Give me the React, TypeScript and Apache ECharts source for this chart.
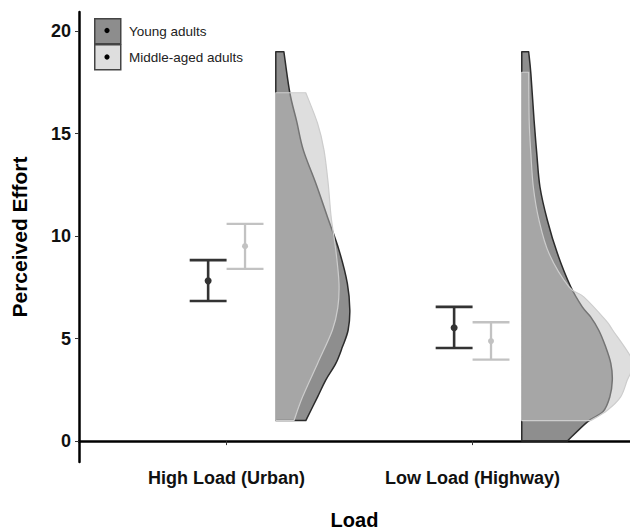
import React, { useEffect, useRef } from "react";
import * as echarts from "echarts";

const categories = ["High Load (Urban)", "Low Load (Highway)"];
const groups = ["Young adults", "Middle-aged adults"];
const yTicks = [0, 5, 10, 15, 20];
const xTicks = [1, 2];

// Means and error-bar limits, per category
const youngMean = [7.82, 5.53];
const youngLower = [6.84, 4.54];
const youngUpper = [8.83, 6.55];
const middleMean = [9.51, 4.88];
const middleLower = [8.4, 3.98];
const middleUpper = [10.6, 5.8];

// Half-violin outlines: effort level -> half width (in category units)
const youngHighEffort = [1, 2.16, 2.98, 3.79, 4.6, 5.41, 6.39, 7.69, 9.32, 10.94, 12.57, 14.2, 15.6, 17, 19];
const youngHighWidth = [0.122, 0.17, 0.203, 0.244, 0.271, 0.294, 0.301, 0.291, 0.257, 0.21, 0.163, 0.112, 0.085, 0.057, 0.033];
const middleHighEffort = [1, 2.16, 3.79, 5.41, 6.5, 7.69, 9.32, 10.94, 12.57, 14.2, 15.5, 17];
const middleHighWidth = [0.074, 0.109, 0.17, 0.23, 0.252, 0.257, 0.244, 0.225, 0.213, 0.196, 0.17, 0.122];
const youngLowEffort = [0, 0.94, 1.43, 2.16, 2.98, 3.79, 4.6, 5.41, 6.06, 6.55, 7.53, 9.15, 10.78, 12.4, 14.03, 15.66, 17.93, 19];
const youngLowWidth = [0.185, 0.267, 0.33, 0.358, 0.368, 0.362, 0.341, 0.313, 0.28, 0.246, 0.199, 0.145, 0.104, 0.074, 0.061, 0.05, 0.037, 0.028];
const middleLowEffort = [1, 1.51, 2.16, 2.98, 3.5, 4.11, 5.41, 5.9, 7.04, 7.53, 9.15, 10.78, 12.4, 14.03, 15.66, 18];
const middleLowWidth = [0.28, 0.348, 0.402, 0.429, 0.447, 0.443, 0.37, 0.341, 0.252, 0.192, 0.111, 0.07, 0.047, 0.037, 0.03, 0.028];

const violinOffset = 0.2;
const dodge = 0.075;
const capHalf = 0.075;

const youngProfiles = [
  { effort: youngHighEffort, width: youngHighWidth },
  { effort: youngLowEffort, width: youngLowWidth },
];
const middleProfiles = [
  { effort: middleHighEffort, width: middleHighWidth },
  { effort: middleLowEffort, width: middleLowWidth },
];

function pathFor(pts: number[][], b0: number[], b1: number[]) {
  const f = (p: number[]) => p[0].toFixed(2) + " " + p[1].toFixed(2);
  let d = "M " + f(b0) + " L " + f(pts[0]);
  for (let i = 0; i < pts.length - 1; i++) {
    const p0 = pts[i - 1] || pts[i];
    const p1 = pts[i];
    const p2 = pts[i + 1];
    const p3 = pts[i + 2] || pts[i + 1];
    const c1 = [p1[0] + (p2[0] - p0[0]) / 6, p1[1] + (p2[1] - p0[1]) / 6];
    const c2 = [p2[0] - (p3[0] - p1[0]) / 6, p2[1] - (p3[1] - p1[1]) / 6];
    d += " C " + f(c1) + " " + f(c2) + " " + f(p2);
  }
  d += " L " + f(b1) + " Z";
  return d;
}

function violinSeries(name: string, profiles: any[], fill: string, stroke: string, lw: number) {
  return {
    type: "custom",
    name,
    clip: true,
    data: xTicks.map((x) => [x, 0]),
    encode: { x: 0, y: 1 },
    renderItem: (params: any, api: any) => {
      const prof = profiles[params.dataIndex];
      const base = api.value(0) + violinOffset;
      const pts = prof.effort.map((e: number, i: number) => api.coord([base + prof.width[i], e]));
      const b0 = api.coord([base, prof.effort[0]]);
      const b1 = api.coord([base, prof.effort[prof.effort.length - 1]]);
      return {
        type: "path",
        shape: { pathData: pathFor(pts, b0, b1) },
        style: { fill, stroke, lineWidth: lw, lineJoin: "round" },
      };
    },
  };
}

function errorSeries(name: string, mean: number[], lower: number[], upper: number[], off: number, color: string, lw: number, r: number) {
  return {
    type: "custom",
    name,
    data: xTicks.map((x, i) => [x + off, mean[i], lower[i], upper[i]]),
    encode: { x: 0, y: 1 },
    renderItem: (params: any, api: any) => {
      const x = api.value(0);
      const lo = api.coord([x, api.value(2)]);
      const hi = api.coord([x, api.value(3)]);
      const m = api.coord([x, api.value(1)]);
      const l = api.coord([x - capHalf, 0])[0];
      const rr = api.coord([x + capHalf, 0])[0];
      const ls = { stroke: color, lineWidth: lw };
      return {
        type: "group",
        children: [
          { type: "line", shape: { x1: lo[0], y1: lo[1], x2: hi[0], y2: hi[1] }, style: ls },
          { type: "line", shape: { x1: l, y1: lo[1], x2: rr, y2: lo[1] }, style: ls },
          { type: "line", shape: { x1: l, y1: hi[1], x2: rr, y2: hi[1] }, style: ls },
          { type: "circle", shape: { cx: m[0], cy: m[1], r }, style: { fill: color } },
        ],
      };
    },
  };
}

export default function App() {
  const ref = useRef<HTMLDivElement>(null);
  useEffect(() => {
    if (!ref.current) return;
    const chart = echarts.init(ref.current, undefined, { renderer: "svg" });
    const font = "'Liberation Sans', Arial, sans-serif";
    chart.setOption({
      animation: false,
      textStyle: { fontFamily: font },
      grid: { left: 79, top: 12, right: 0, bottom: 70, containLabel: false, outerBoundsMode: "none" },
      xAxis: {
        type: "value",
        min: 0.4,
        max: 2.64,
        splitLine: { show: false },
        axisLine: { show: true, lineStyle: { color: "#000", width: 2.5 } },
        axisTick: { show: true, customValues: xTicks, length: 4, lineStyle: { color: "#333", width: 1 } },
        axisLabel: {
          customValues: xTicks,
          formatter: (v: number) => categories[Math.round(v) - 1] || "",
          fontWeight: "bold",
          fontSize: 18,
          color: "#111",
          margin: 7,
          fontFamily: font,
        },
        name: "Load",
        nameLocation: "middle",
        nameGap: 48,
        nameTextStyle: { fontWeight: "bold", fontSize: 20, color: "#000", fontFamily: font },
      },
      yAxis: {
        type: "value",
        min: -1.02,
        max: 20.94,
        splitLine: { show: false },
        axisLine: { show: true, lineStyle: { color: "#000", width: 2.5 } },
        axisTick: { show: true, customValues: yTicks, length: 4, lineStyle: { color: "#333", width: 1 } },
        axisLabel: {
          customValues: yTicks,
          fontWeight: "bold",
          fontSize: 18,
          color: "#111",
          margin: 8,
          fontFamily: font,
        },
        name: "Perceived Effort",
        nameLocation: "middle",
        nameGap: 49,
        nameTextStyle: { fontWeight: "bold", fontSize: 21, color: "#000", fontFamily: font },
      },
      graphic: [
        { type: "rect", left: 94, top: 18, shape: { width: 26, height: 25 }, style: { fill: "#8d8d8d", stroke: "#444", lineWidth: 1.5 } },
        { type: "circle", shape: { cx: 107, cy: 30.5, r: 2.6 }, style: { fill: "#000" } },
        { type: "rect", left: 94, top: 44, shape: { width: 26, height: 25 }, style: { fill: "#dedede", stroke: "#444", lineWidth: 1.5 } },
        { type: "circle", shape: { cx: 107, cy: 57, r: 2.6 }, style: { fill: "#000" } },
        { type: "text", x: 129, y: 31, style: { text: groups[0], fontSize: 13.5, fill: "#222", verticalAlign: "middle", fontFamily: font } },
        { type: "text", x: 129, y: 57, style: { text: groups[1], fontSize: 13.5, fill: "#222", verticalAlign: "middle", fontFamily: font } },
      ],
      series: [
        violinSeries(groups[0], youngProfiles, "rgba(30,30,30,0.5)", "#2b2b2b", 1.5),
        violinSeries(groups[1], middleProfiles, "rgba(190,190,190,0.5)", "#cdcdcd", 1.2),
        errorSeries(groups[0], youngMean, youngLower, youngUpper, -dodge, "#333", 2.6, 3.5),
        errorSeries(groups[1], middleMean, middleLower, middleUpper, dodge, "#c2c2c2", 2.3, 3),
      ],
    });
    return () => chart.dispose();
  }, []);
  return <div ref={ref} style={{ position: "absolute", left: 0, top: 0, width: 630, height: 532 }} />;
}
